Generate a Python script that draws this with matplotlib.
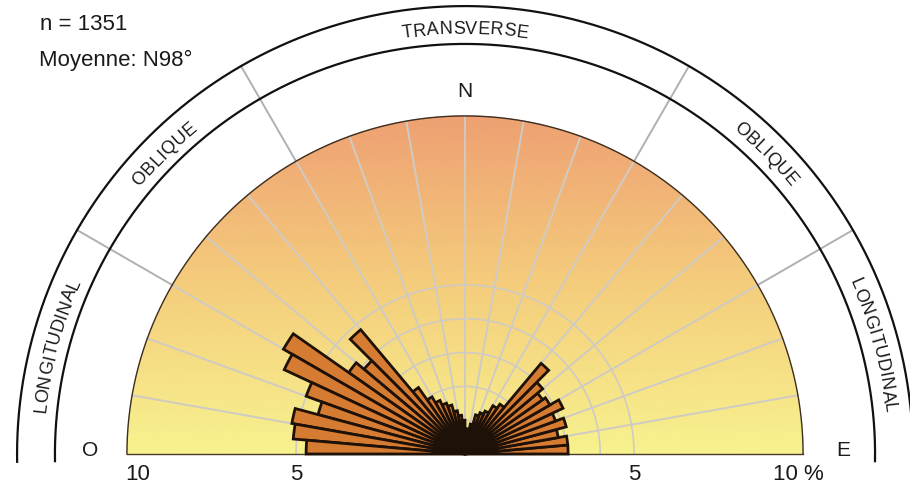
import numpy as np
import matplotlib.pyplot as plt
from matplotlib.colors import LinearSegmentedColormap
from matplotlib.font_manager import FontProperties
from matplotlib.textpath import TextToPath

plt.rcParams['font.family'] = ['Liberation Sans', 'DejaVu Sans']

# 5 degree classes, angle counted from E (0) through N (90) to O (180)
east_start = np.arange(0, 90, 5)
east_pct = [3.05, 3.05, 2.8, 3.1, 2.85, 3.2, 2.9, 2.8, 3.0,
            3.5, 1.8, 1.65, 1.4, 1.3, 1.2, 0.9, 0.75, 0.6]
west_start = np.arange(90, 180, 5)
west_pct = [1.0, 1.15, 1.3, 1.5, 1.6, 1.75, 1.95, 2.4, 4.8,
            3.9, 4.2, 6.2, 5.9, 5.0, 4.5, 5.2, 5.1, 4.7]

ring_values = [1, 2, 3, 4, 5]
tick_r = [10, 5, 5, 10]
tick_side = [180, 180, 0, 0]
tick_labels = ["10", "5", "5", "10 %"]

# sectors of the outer band: label, centre angle
sector_labels = ["LONGITUDINAL", "OBLIQUE", "TRANSVERSE", "OBLIQUE", "LONGITUDINAL"]
sector_centres = [165, 135, 90, 45, 15]
sector_limits = [30, 60, 120, 150]

RMAX = 13.4
R_ROSE = 10
R_IN, R_OUT = 12.13, 13.25
R_TXT = 12.6

W, H, DPI = 910, 485, 100
cx, cy = 465, 30            # centre of the rose, pixels from bottom left
rad_px = 453                # pixels for RMAX

fig = plt.figure(figsize=(W / DPI, H / DPI), dpi=DPI)
ax = fig.add_axes([(cx - rad_px) / W, (cy - rad_px) / H, 2 * rad_px / W, 2 * rad_px / H],
                  projection="polar")
ax.set_ylim(0, RMAX)
ax.grid(False)
ax.set_xticks([])
ax.set_yticks([])
ax.spines["polar"].set_visible(False)
ax.patch.set_visible(False)

# background gradient, yellow at the base to orange at the top
bg_cmap = LinearSegmentedColormap.from_list("bg", ["#f7f28e", "#f4cd7c", "#eea072"])
th = np.linspace(0, np.pi, 361)
rr = np.linspace(0, R_ROSE, 41)
TH, RR = np.meshgrid(th, rr)
ax.pcolormesh(TH, RR, RR * np.sin(TH), cmap=bg_cmap, vmin=0, vmax=R_ROSE,
              shading="gouraud", zorder=0, rasterized=True)

grid_col = "#cfcbc4"
arc = np.linspace(0, np.pi, 361)
for rv in ring_values:
    ax.plot(arc, np.full_like(arc, rv), color=grid_col, lw=1.2, zorder=1)
for a in range(10, 180, 10):
    ax.plot([np.radians(a)] * 2, [0, R_ROSE], color=grid_col, lw=1.4, zorder=1)
    if a in sector_limits:
        ax.plot([np.radians(a)] * 2, [R_ROSE, R_OUT], color="#b0b0b0", lw=1.4, zorder=1)

# rose outline and baseline
ax.plot(arc, np.full_like(arc, R_ROSE), color="#3b2e22", lw=1.0, zorder=2)
ax.plot([np.pi, np.pi], [0, R_ROSE], color="#4a3c2c", lw=1.0, zorder=2)
ax.plot([0, 0], [0, R_ROSE], color="#4a3c2c", lw=1.0, zorder=2)

# bars
width = np.radians(5)
for starts, vals in [(east_start, east_pct), (west_start, west_pct)]:
    ax.bar(np.radians(starts) + width / 2, vals, width=width, bottom=0,
           color="#d57b32", edgecolor="#1e1108", linewidth=2.0, zorder=3)

# outer band arcs
band = np.linspace(np.radians(-1), np.pi + np.radians(1), 400)
for rv in (R_IN, R_OUT):
    ax.plot(band, np.full_like(band, rv), color="#111111", lw=1.6, zorder=2)


def arc_text(text, centre_deg, r, size):
    fp = FontProperties(family="Liberation Sans", size=size)
    t2p = TextToPath()
    px = DPI / 72.0
    pref = [0.0] + [t2p.get_text_width_height_descent(text[:i + 1], fp, ismath=False)[0] * px
                    for i in range(len(text))]
    total = pref[-1] * 1.04
    r_px = r * rad_px / RMAX
    start = np.radians(centre_deg) + total / r_px / 2
    for i, ch in enumerate(text):
        mid = (pref[i] + pref[i + 1]) / 2 * 1.04
        ang = start - mid / r_px
        ax.text(ang, r, ch, fontsize=size, ha="center", va="center",
                rotation=np.degrees(ang) - 90, rotation_mode="anchor", color="#1a1a1a")


for lab, c in zip(sector_labels, sector_centres):
    arc_text(lab, c, R_TXT, 13)

# compass letters
ax.text(np.pi / 2, 10.75, "N", fontsize=15, ha="center", va="center", color="#1a1a1a")
ax.annotate("O", xy=(np.pi, 11.1), xytext=(0, 3.5), textcoords="offset points",
            fontsize=15, ha="center", va="center", color="#1a1a1a")
ax.annotate("E", xy=(0, 11.2), xytext=(0, 3.5), textcoords="offset points",
            fontsize=15, ha="center", va="center", color="#1a1a1a")

# radial scale labels under the base
dx = [11, 0, 0, -4]
for rv, side, lab, d in zip(tick_r, tick_side, tick_labels, dx):
    ha = "left" if lab.endswith("%") else "center"
    off = -30 if ha == "left" else d
    ax.annotate(lab, xy=(np.radians(side), rv), xytext=(off * 0.72, -14), textcoords="offset points",
                fontsize=16, ha=ha, va="center", color="#1a1a1a")

fig.text(40 / W, 1 - 25 / H, "n = 1351", fontsize=16, va="center", color="#1a1a1a")
fig.text(39 / W, 1 - 60 / H, "Moyenne: N98°", fontsize=16, va="center", color="#1a1a1a")

fig.savefig("out.png", dpi=DPI)
